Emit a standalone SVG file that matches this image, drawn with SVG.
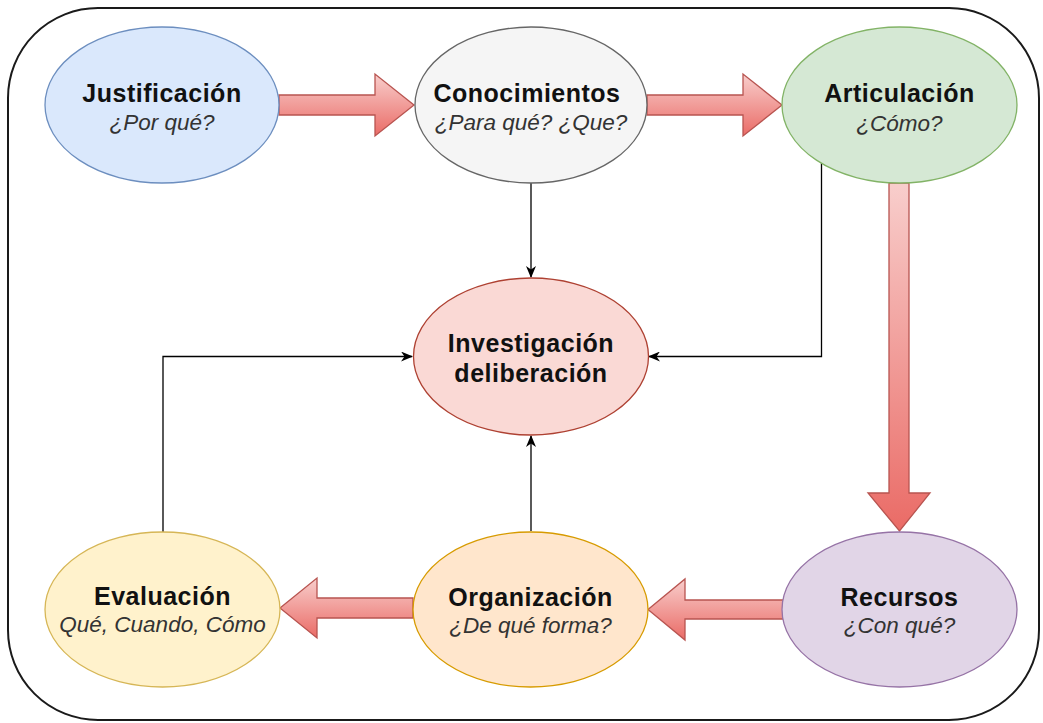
<svg xmlns="http://www.w3.org/2000/svg" width="1043" height="723" viewBox="0 0 1043 723">
  <defs>
    <linearGradient id="flexFill" x1="0" y1="0" x2="0" y2="1">
      <stop offset="0" stop-color="#f8cecc"/>
      <stop offset="1" stop-color="#ea6b66"/>
    </linearGradient>
    <marker id="tip" viewBox="0 0 12 10" refX="11" refY="5" markerWidth="12" markerHeight="10" markerUnits="userSpaceOnUse" orient="auto">
      <path d="M0,0 L12,5 L0,10 L3.5,5 Z" fill="#000"/>
    </marker>
    <style>
      .frame { fill: #ffffff; stroke: #1a1a1a; stroke-width: 2; }
      .node { stroke-width: 1.3; }
      .blue { fill: #dae8fc; stroke: #6c8ebf; }
      .gray { fill: #f5f5f5; stroke: #666666; }
      .green { fill: #d5e8d4; stroke: #82b366; }
      .red { fill: #fad9d5; stroke: #ae4132; }
      .yellow { fill: #fff2cc; stroke: #d6b656; }
      .orange { fill: #ffe6cc; stroke: #d79b00; }
      .purple { fill: #e1d5e7; stroke: #9673a6; }
      .title { font-family: "Liberation Sans", Arial, sans-serif; font-weight: bold; font-size: 25px; fill: #111111; text-anchor: middle; letter-spacing: 0.5px; }
      .sub { font-family: "Liberation Sans", Arial, sans-serif; font-style: italic; font-size: 22.5px; fill: #333333; text-anchor: middle; }
      .flex { fill: url(#flexFill); stroke: #b85450; stroke-width: 1.3; stroke-linejoin: miter; }
      .link { fill: none; stroke: #000; stroke-width: 1.3; marker-end: url(#tip); }
    </style>
  </defs>

  <!-- outer frame -->
  <rect class="frame" x="8" y="8" width="1031" height="712" rx="90" ry="90"/>

  <!-- connectors -->
  <g id="connectors">
    <!-- thick flow arrows -->
    <path class="flex" d="M279,95 L375,95 L375,74 L414,105 L375,136 L375,115 L279,115 Z"/>
    <path class="flex" d="M647,95 L743,95 L743,74 L782,105 L743,136 L743,115 L647,115 Z"/>
    <path class="flex" d="M889,183 L909,183 L909,493 L930,493 L899.5,531 L868,493 L889,493 Z"/>
    <path class="flex" d="M783,600 L685,600 L685,579 L648,609.5 L685,640 L685,619 L783,619 Z"/>
    <path class="flex" d="M413,598 L317,598 L317,578 L280,608 L317,638 L317,618 L413,618 Z"/>
    <!-- thin links into the centre -->
    <path class="link" d="M531,183 L531,277"/>
    <path class="link" d="M821.5,163 L821.5,356.5 L649,356.5"/>
    <path class="link" d="M163,532 L163,356.5 L412,356.5"/>
    <path class="link" d="M531,531 L531,436"/>
  </g>

  <g id="justificacion">
    <ellipse class="node blue" cx="162" cy="105" rx="117" ry="78"/>
    <text class="title" x="162" y="102">Justificación</text>
    <text class="sub" x="162" y="130">¿Por qué?</text>
  </g>

  <g id="conocimientos">
    <ellipse class="node gray" cx="531" cy="105" rx="116" ry="78"/>
    <text class="title" x="527" y="102">Conocimientos</text>
    <text class="sub" x="531" y="130">¿Para qué? ¿Que?</text>
  </g>

  <g id="articulacion">
    <ellipse class="node green" cx="899.5" cy="105" rx="117.5" ry="78"/>
    <text class="title" x="899.5" y="102">Articulación</text>
    <text class="sub" x="899.5" y="131">¿Cómo?</text>
  </g>

  <g id="investigacion">
    <ellipse class="node red" cx="531" cy="356.5" rx="117.5" ry="78.5"/>
    <text class="title" x="531" y="352">Investigación</text>
    <text class="title" x="531" y="382">deliberación</text>
  </g>

  <g id="evaluacion">
    <ellipse class="node yellow" cx="162.5" cy="609.5" rx="117.5" ry="77.5"/>
    <text class="title" x="162.5" y="605">Evaluación</text>
    <text class="sub" x="162.5" y="632">Qué, Cuando, Cómo</text>
  </g>

  <g id="organizacion">
    <ellipse class="node orange" cx="530.5" cy="609.5" rx="117.5" ry="77.5"/>
    <text class="title" x="530.5" y="606">Organización</text>
    <text class="sub" x="530.5" y="633">¿De qué forma?</text>
  </g>

  <g id="recursos">
    <ellipse class="node purple" cx="899.5" cy="609.5" rx="117.5" ry="77.5"/>
    <text class="title" x="899.5" y="606">Recursos</text>
    <text class="sub" x="899.5" y="633">¿Con qué?</text>
  </g>
</svg>
